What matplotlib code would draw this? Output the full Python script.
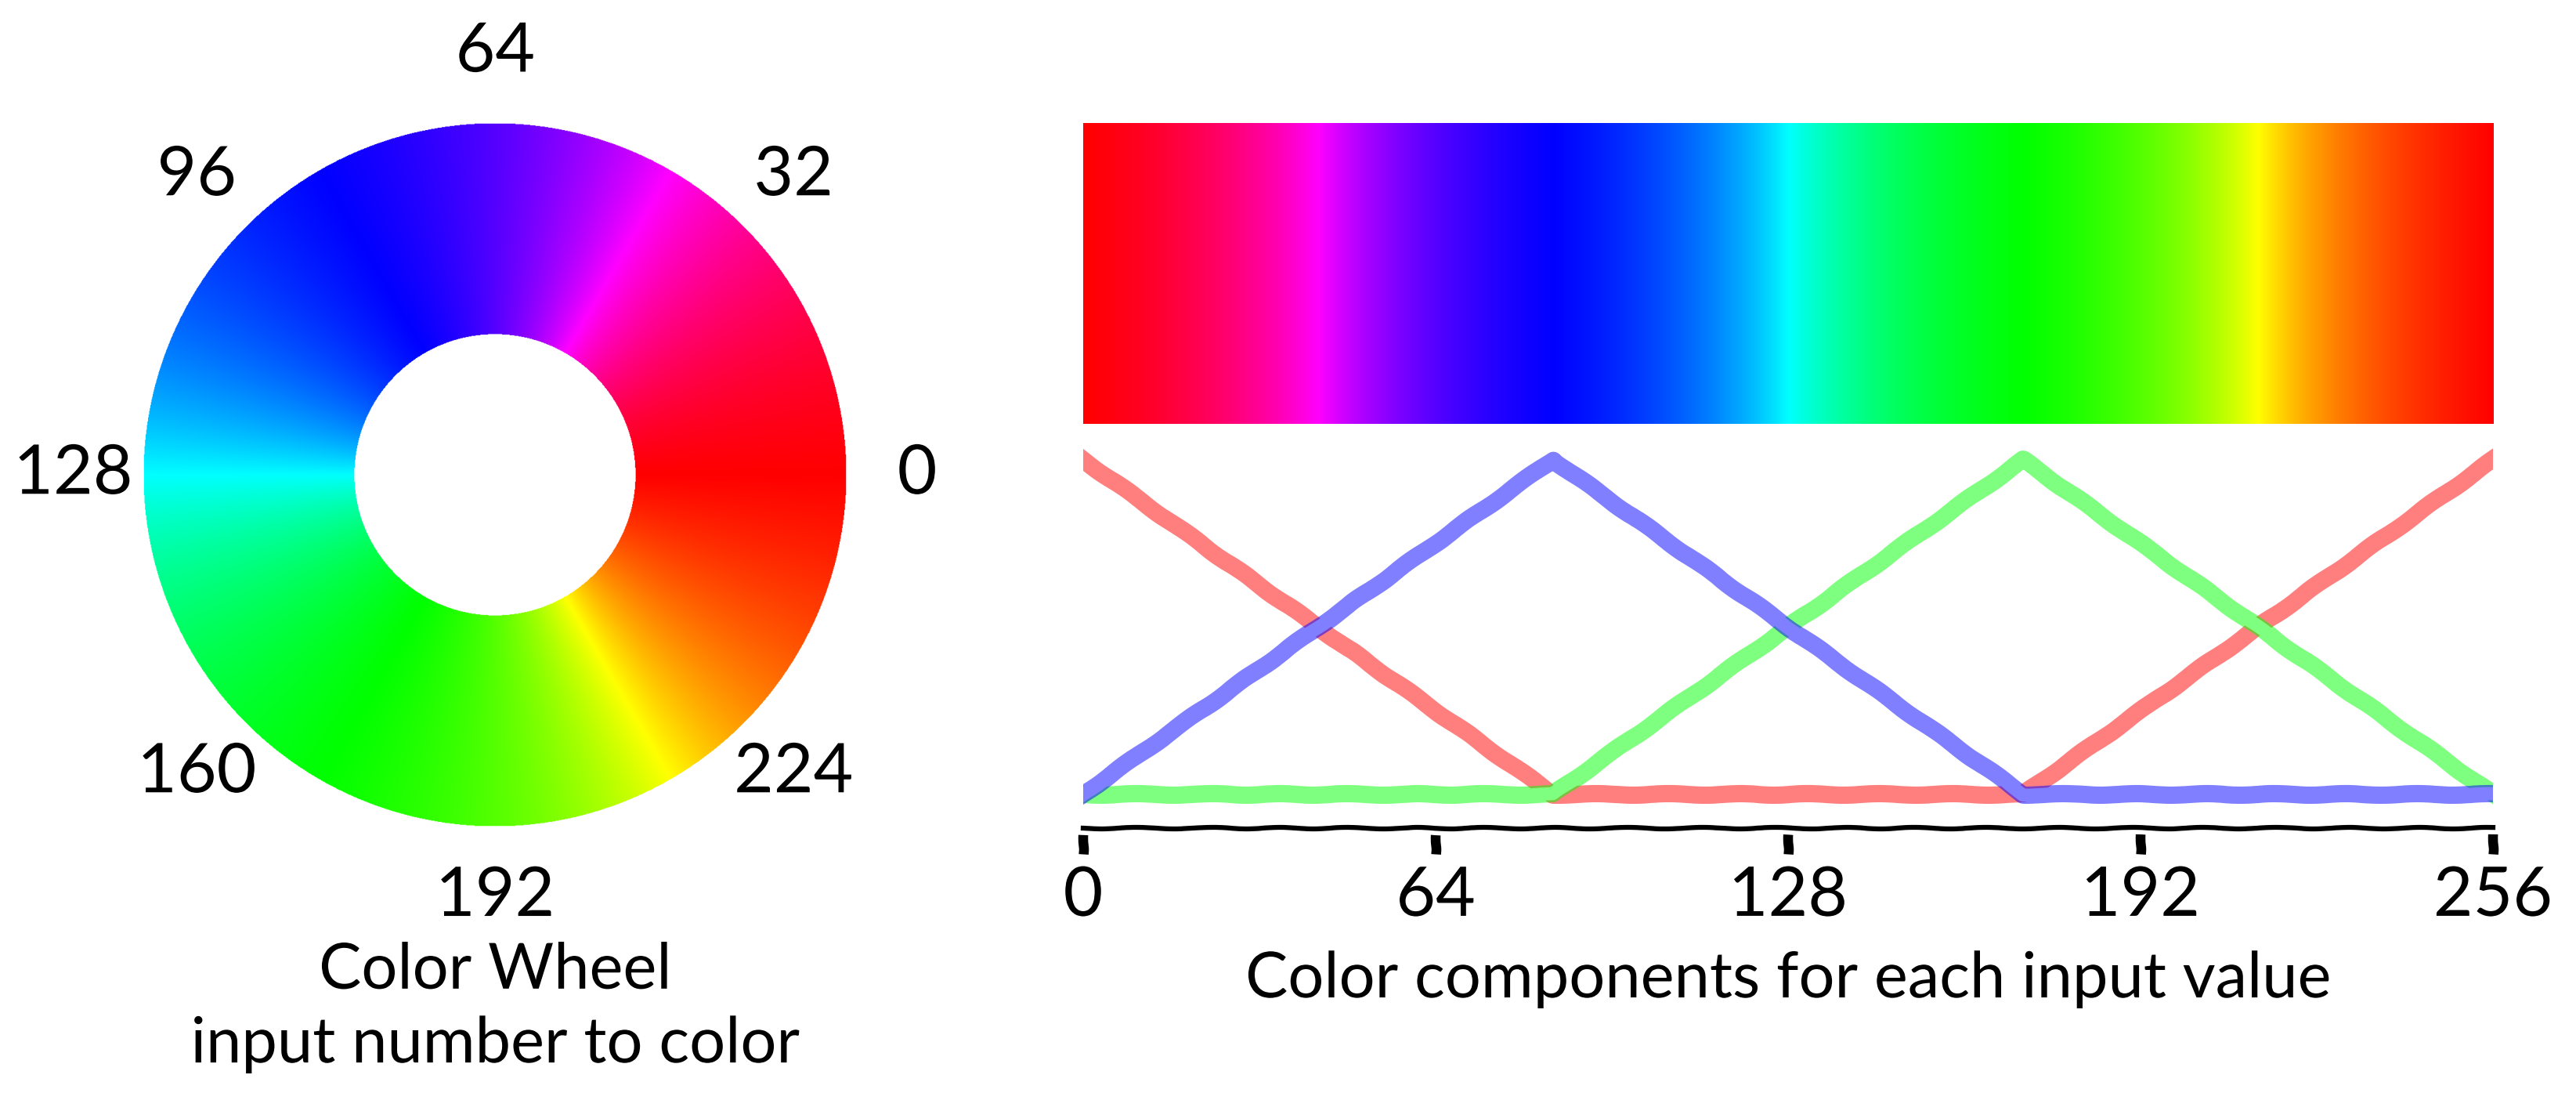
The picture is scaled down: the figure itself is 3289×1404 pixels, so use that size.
import numpy as np
import matplotlib.pyplot as plt

# colour components (0..255) at the corners of the wheel function
x_pts = [0, 85.3, 170.7, 256]
red = [255, 0, 0, 255]
green = [0, 0, 255, 0]
blue = [0, 255, 0, 0]

wheel_ticks = [0, 32, 64, 96, 128, 160, 192, 224]
axis_ticks = [0, 64, 128, 192, 256]


def wheel_color(v):
    rgb = np.stack([np.interp(v, x_pts, red),
                    np.interp(v, x_pts, green),
                    np.interp(v, x_pts, blue)], axis=-1)
    # full brightness version of the colour
    return rgb / rgb.max(axis=-1, keepdims=True)


plt.xkcd()
plt.rcParams['font.family'] = ['Lato', 'DejaVu Sans']
fs_num = 21
fs_txt = 19.5

fig = plt.figure(figsize=(3289 / 300, 1404 / 300), dpi=300)

with plt.rc_context({'path.sketch': None}):
    # --- colour wheel ---
    axw = fig.add_axes([0.02159, 0.1688, 0.3413, 0.7995])
    g = np.linspace(-1, 1, 1200)
    xx, yy = np.meshgrid(g, g)
    rr = np.hypot(xx, yy)
    vv = (np.degrees(np.arctan2(yy, xx)) % 360) / 360 * 256
    mask = ((rr <= 1) & (rr >= 0.4)).astype(float)
    img = np.dstack([wheel_color(vv), mask])
    axw.imshow(img, extent=[-1, 1, -1, 1], origin='lower')
    axw.set_xlim(-1.25, 1.25)
    axw.set_ylim(-1.25, 1.25)
    axw.set_aspect('equal')
    axw.axis('off')

    for v in wheel_ticks:
        a = v / 256 * 2 * np.pi
        axw.text(1.2 * np.cos(a), 1.2 * np.sin(a), str(v), ha='center', va='center', fontsize=fs_num)

    axw.text(0, -1.41, 'Color Wheel', ha='center', va='center', fontsize=fs_txt)
    axw.text(0, -1.62, 'input number to color', ha='center', va='center', fontsize=fs_txt)

    # --- gradient bar ---
    axb = fig.add_axes([0.42049, 0.61467, 0.54728, 0.2735])
    xs = np.linspace(0, 256, 1024)
    axb.imshow(wheel_color(xs)[None, :, :], extent=[0, 256, 0, 1], aspect='auto')
    axb.set_xlim(0, 256)
    axb.axis('off')

# --- component lines ---
ax = fig.add_axes([0.42049, 0.24715, 0.54728, 0.3647])
ax.patch.set_visible(False)
ax.plot(x_pts, red, color='#ff0000', alpha=0.5, lw=5.3)
ax.plot(x_pts, green, color='#00ff00', alpha=0.5, lw=5.3)
ax.plot(x_pts, blue, color='#0000ff', alpha=0.5, lw=5.3)
ax.set_xlim(0, 256)
ax.set_ylim(-25.7, 280)
ax.set_xticks(axis_ticks)
ax.set_yticks([])
for s in ['left', 'top', 'right']:
    ax.spines[s].set_visible(False)
ax.tick_params(axis='x', labelsize=fs_num)
ax.set_xlabel('Color components for each input value', fontsize=fs_txt, labelpad=7)

fig.savefig('out.png', dpi=300)
